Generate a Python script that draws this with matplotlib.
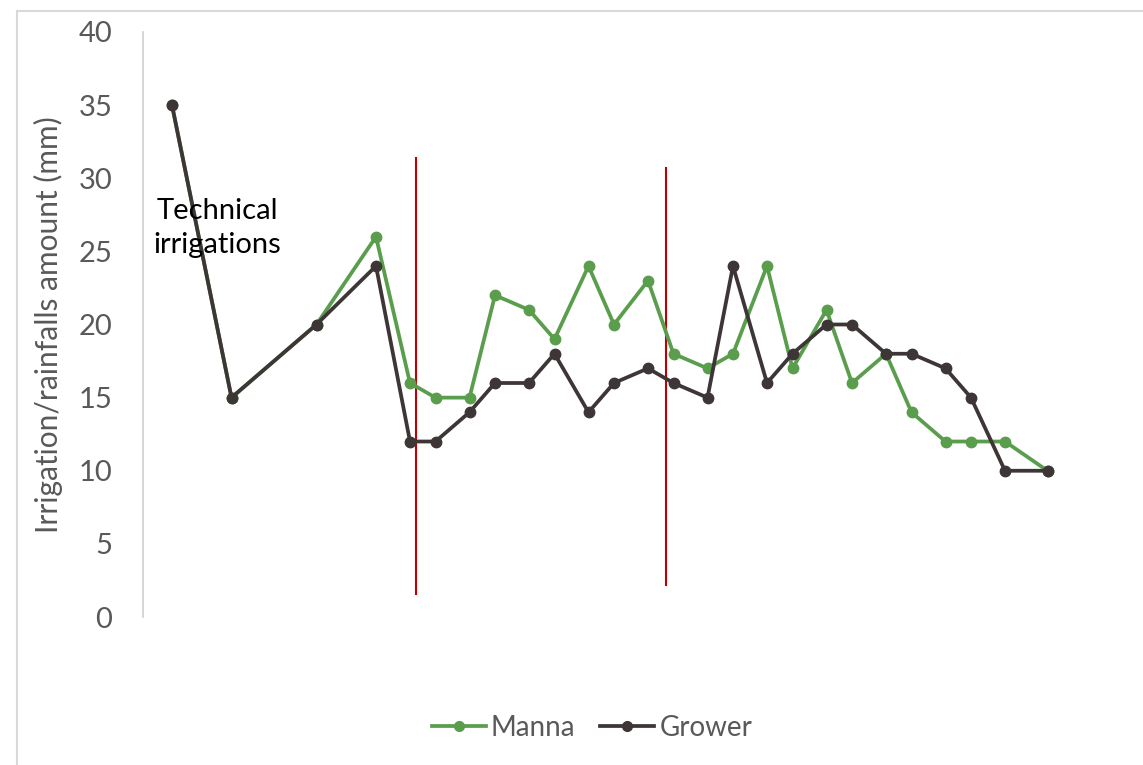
import matplotlib
matplotlib.use("Agg")
import matplotlib.pyplot as plt
from matplotlib.patches import Rectangle
from matplotlib.lines import Line2D

# Days since first irrigation event (x axis has no labels)
days = [0, 7, 17, 24, 28, 31, 35, 38, 42, 45, 49, 52, 56, 59, 63, 66, 70, 73,
        77, 80, 84, 87, 91, 94, 98, 103]
manna = [35, 15, 20, 26, 16, 15, 15, 22, 21, 19, 24, 20, 23, 18, 17, 18, 24, 17,
         21, 16, 18, 14, 12, 12, 12, 10]
grower = [35, 15, 20, 24, 12, 12, 14, 16, 16, 18, 14, 16, 17, 16, 15, 24, 16, 18,
          20, 20, 18, 18, 17, 15, 10, 10]
divider_days = [28.7, 58.1]
divider_bottom = [1.6, 2.2]
divider_top = [31.4, 30.7]
yticks = [0, 5, 10, 15, 20, 25, 30, 35, 40]

plt.rcParams['font.family'] = ['Lato', 'DejaVu Sans']

W, H = 1143, 765
fig = plt.figure(figsize=(W / 100, H / 100), dpi=100)
fig.patches.append(Rectangle((17 / W, -0.1), 1.2, (H - 11) / H + 0.1,
                             transform=fig.transFigure, fill=False,
                             edgecolor='#D9D9D9', linewidth=1.5))

ax_left, ax_right = 143, 1080
ax_top, ax_bot = 32, 617
ax = fig.add_axes([ax_left / W, (H - ax_bot) / H, (ax_right - ax_left) / W,
                   (ax_bot - ax_top) / H])

px_per_day = 8.5
x0 = 172
ax.set_xlim((ax_left - x0) / px_per_day, (ax_right - x0) / px_per_day)
ax.set_ylim(0, 40)

green = '#5A9E4D'
dark = '#3D3536'
ax.plot(days, manna, color=green, lw=2.7, marker='o', ms=7.5, zorder=3)
ax.plot(days, grower, color=dark, lw=2.7, marker='o', ms=7.5, zorder=4)

for d, b, t in zip(divider_days, divider_bottom, divider_top):
    ax.plot([d, d], [b, t], color='#C00000', lw=1.5, zorder=2)

ax.text(5.3, 26.6, 'Technical\nirrigations', ha='center', va='center',
        fontsize=21, color='black', linespacing=1.35, zorder=5)

for s in ['top', 'right', 'bottom']:
    ax.spines[s].set_visible(False)
ax.spines['left'].set_color('#D0D0D0')
ax.spines['left'].set_linewidth(1.2)
ax.set_xticks([])
ax.set_yticks(yticks)
ax.tick_params(axis='y', length=0, labelsize=21, labelcolor='#595959', pad=22)
ax.set_ylabel('Irrigation/rainfalls amount (mm)', fontsize=21.5, color='#595959')
ax.yaxis.set_label_coords(-80 / (ax_right - ax_left), 0.5)

handles = [Line2D([], [], color=green, lw=2.7, marker='o', ms=7),
           Line2D([], [], color=dark, lw=2.7, marker='o', ms=7)]
leg = fig.legend(handles, ['Manna', 'Grower'], loc='center',
                 bbox_to_anchor=(592 / W, (H - 728) / H), ncol=2, frameon=False,
                 fontsize=20, handlelength=1.95, handletextpad=0.18,
                 columnspacing=0.9)
for t in leg.get_texts():
    t.set_color('#595959')

fig.savefig('out.png', dpi=100)
